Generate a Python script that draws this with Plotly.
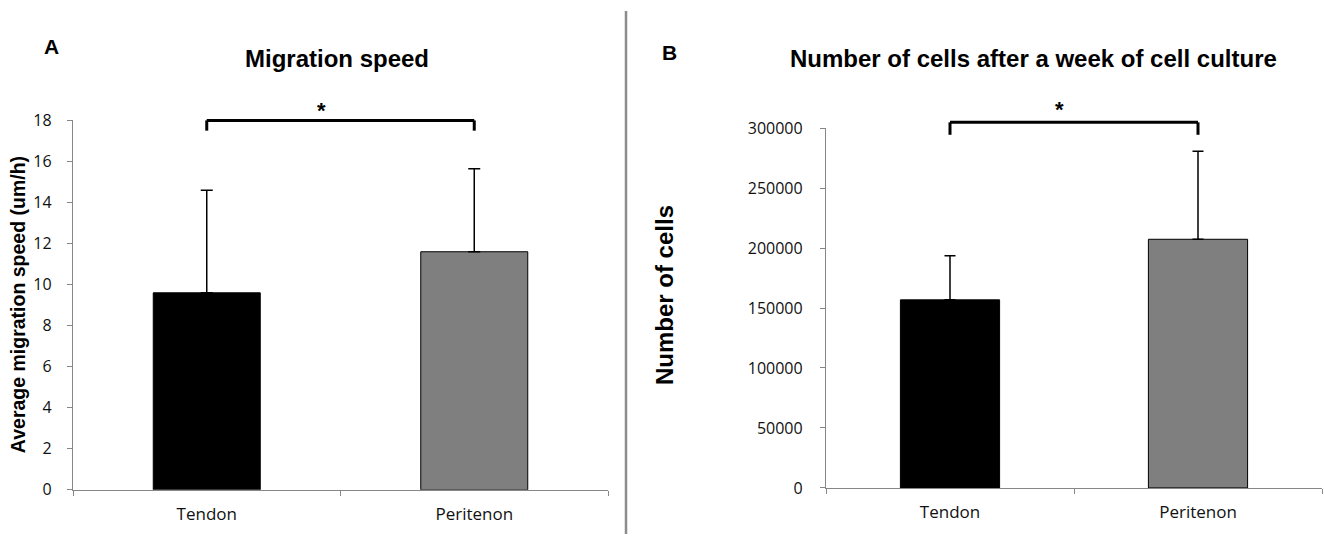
import plotly.graph_objects as go

# ---------------- data ----------------
categories = ["Tendon", "Peritenon"]
bar_colors = ["#000000", "#7f7f7f"]

speed_mean = [9.6, 11.6]
speed_sd = [5.0, 4.05]
speed_ticks = [0, 2, 4, 6, 8, 10, 12, 14, 16, 18]
speed_ticklabels = ["0", "2", "4", "6", "8", "10", "12", "14", "16", "18"]
speed_max = 18

cells_mean = [156800, 207300]
cells_sd = [36800, 73300]
cells_ticks = [0, 50000, 100000, 150000, 200000, 250000, 300000]
cells_ticklabels = ["0", "50000", "100000", "150000", "200000", "250000", "300000"]
cells_max = 300000

# significance brackets (data units): top level, leg bottom
bracket_A = (18.0, 17.5)
bracket_B = (304800, 294400)

W, H = 1324, 545
YTICKFONT = dict(family="Open Sans, Noto Sans, sans-serif", size=16, color="#111111")
XTICKFONT = dict(family="Open Sans, Noto Sans, sans-serif", size=17, color="#111111")
BOLD = "Liberation Sans, Arial, sans-serif"
AXCOL = "#878787"

fig = go.Figure()

fig.add_trace(go.Bar(
    x=categories, y=speed_mean, width=0.4,
    marker=dict(color=bar_colors, line=dict(color="#000000", width=1)),
    error_y=dict(type="data", symmetric=False, array=speed_sd, arrayminus=[0, 0],
                 color="#000000", thickness=1.5, width=6),
    xaxis="x", yaxis="y", showlegend=False, hoverinfo="x+y"))

fig.add_trace(go.Bar(
    x=categories, y=cells_mean, width=0.4,
    marker=dict(color=bar_colors, line=dict(color="#000000", width=1)),
    error_y=dict(type="data", symmetric=False, array=cells_sd, arrayminus=[0, 0],
                 color="#000000", thickness=1.5, width=5.5),
    xaxis="x2", yaxis="y2", showlegend=False, hoverinfo="x+y"))

xcommon = dict(type="category", showgrid=False, zeroline=False, showline=True,
               linecolor=AXCOL, linewidth=1.3, ticks="outside", ticklen=5,
               tickcolor=AXCOL, tickwidth=1.3, tickson="boundaries",
               tickfont=XTICKFONT, ticklabelstandoff=9, range=[-0.5, 1.5],
               fixedrange=True)
ycommon = dict(showgrid=False, zeroline=False, showline=True, linecolor=AXCOL,
               linewidth=1.3, ticks="outside", ticklen=5, tickcolor=AXCOL,
               tickwidth=1.3, tickfont=YTICKFONT, fixedrange=True)

fig.update_layout(
    width=W, height=H,
    margin=dict(l=0, r=0, t=0, b=0),
    paper_bgcolor="white", plot_bgcolor="rgba(0,0,0,0)",
    xaxis=dict(domain=[73 / W, 608 / W], anchor="y", **xcommon),
    yaxis=dict(domain=[(H - 499) / H, (H - 114) / H], anchor="x",
               range=[0, speed_max], tickvals=speed_ticks, ticktext=speed_ticklabels,
               ticklabelstandoff=12, **ycommon),
    xaxis2=dict(domain=[826 / W, 1322 / W], anchor="y2", **xcommon),
    yaxis2=dict(domain=[(H - 497) / H, (H - 122) / H], anchor="x2",
                range=[0, cells_max], tickvals=cells_ticks, ticktext=cells_ticklabels,
                ticklabelstandoff=14, **ycommon),
)

shapes = []
# separator line between panels
shapes.append(dict(type="line", xref="paper", yref="paper", x0=626 / W, x1=626 / W,
                   y0=0, y1=1, line=dict(color="#8c8c8c", width=2.5)))


def bracket(xref, ydom, top, leg, ymax):
    t, l = top / ymax, leg / ymax
    out = []
    for (x0, y0, x1, y1) in [(0, l, 0, t), (0, t, 1, t), (1, t, 1, l)]:
        out.append(dict(type="line", xref=xref, yref=ydom, x0=x0, x1=x1, y0=y0, y1=y1,
                        line=dict(color="#000000", width=3)))
    return out


shapes += bracket("x", "y domain", bracket_A[0], bracket_A[1], speed_max)
shapes += bracket("x2", "y2 domain", bracket_B[0], bracket_B[1], cells_max)
fig.update_layout(shapes=shapes)

ann = []
ann.append(dict(text="<b>A</b>", xref="paper", yref="paper", x=51 / W, y=(H - 36.5) / H,
                showarrow=False, font=dict(family=BOLD, size=21, color="#000"),
                xanchor="center", yanchor="middle"))
ann.append(dict(text="<b>B</b>", xref="paper", yref="paper", x=670 / W, y=(H - 43) / H,
                showarrow=False, font=dict(family=BOLD, size=21, color="#000"),
                xanchor="center", yanchor="middle"))
ann.append(dict(text="<b>Migration speed</b>", xref="paper", yref="paper",
                x=337.5 / W, y=(H - 49) / H, showarrow=False,
                font=dict(family=BOLD, size=24, color="#000"),
                xanchor="center", yanchor="middle"))
ann.append(dict(text="<b>Number of cells after a week of cell culture</b>", xref="paper",
                yref="paper", x=1033 / W, y=(H - 49) / H, showarrow=False,
                font=dict(family=BOLD, size=24, color="#000"),
                xanchor="center", yanchor="middle"))
ann.append(dict(text="<b>Average migration speed (um/h)</b>", xref="paper", yref="paper",
                x=17.5 / W, y=(H - 306) / H, textangle=-90, showarrow=False,
                font=dict(family=BOLD, size=19.5, color="#000"),
                xanchor="center", yanchor="middle"))
ann.append(dict(text="<b>Number of cells</b>", xref="paper", yref="paper",
                x=664 / W, y=(H - 296) / H, textangle=-90, showarrow=False,
                font=dict(family=BOLD, size=24, color="#000"),
                xanchor="center", yanchor="middle"))
# significance stars
ann.append(dict(text="<b>*</b>", xref="x", yref="y domain", x=0.43, y=1.044,
                yshift=-6, showarrow=False, font=dict(family=BOLD, size=22, color="#000"),
                xanchor="center", yanchor="middle"))
ann.append(dict(text="<b>*</b>", xref="x2", yref="y2 domain", x=0.44, y=1.067,
                yshift=-6, showarrow=False, font=dict(family=BOLD, size=22, color="#000"),
                xanchor="center", yanchor="middle"))
fig.update_layout(annotations=ann)

fig.write_html(
    "out.html",
    config={"displayModeBar": False},
    post_script="document.body.style.margin='0';document.body.style.padding='0';"
                "document.body.style.overflow='hidden';",
)
